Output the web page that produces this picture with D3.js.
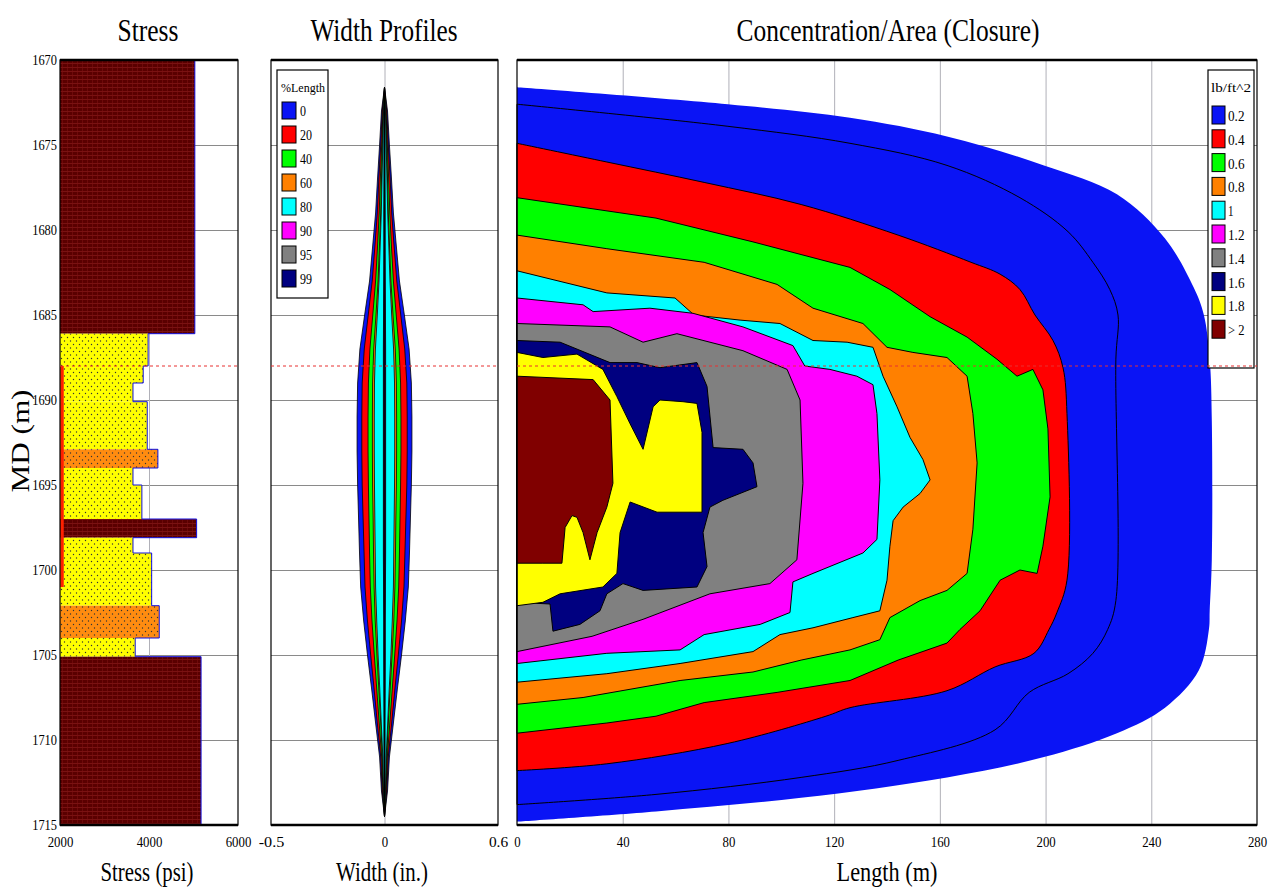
<!DOCTYPE html>
<html>
<head>
<meta charset="utf-8">
<script src="https://cdn.jsdelivr.net/npm/d3@7"></script>
<style>
body { margin: 0; background: #fff; }
text { font-family: "Liberation Serif", "Times New Roman", serif; fill: #000; }
</style>
</head>
<body>
<svg id="chart" width="1275" height="896"></svg>
<script>

// ---- ticks
var depthTicks = [1670, 1675, 1680, 1685, 1690, 1695, 1700, 1705, 1710, 1715];
var stressTicks = [2000, 4000, 6000];
var widthTicks = [-0.6, 0, 0.6];
var widthTickLabels = ['-0.5', '0', '0.6'];
var lengthTicks = [0, 40, 80, 120, 160, 200, 240, 280];

// ---- stress layers (MD m, psi)
var layerTop = [1670, 1686.1, 1688.0, 1689.0, 1690.1, 1692.9, 1694.0, 1695.0, 1697.0, 1698.1, 1699.0, 1702.1, 1704.0, 1705.1];
var layerBot = [1686.1, 1688.0, 1689.0, 1690.1, 1692.9, 1694.0, 1695.0, 1697.0, 1698.1, 1699.0, 1702.1, 1704.0, 1705.1, 1715];
var layerStress = [5030, 3980, 3870, 3640, 3960, 4200, 3640, 3840, 5070, 3640, 4060, 4230, 3690, 5170];
var layerRock = ['shale', 'sand', 'sand', 'sand', 'sand', 'lime', 'sand', 'sand', 'shale', 'sand', 'sand', 'lime', 'sand', 'shale'];
var perfTop = 1688.0, perfBot = 1701.0;
var refDepth = 1688.0;

// ---- width profiles (half width, in.)
var wpLabels = ['0', '20', '40', '60', '80', '90', '95', '99'];
var wpColors = ['#0a14f5', '#ff0000', '#00ff00', '#ff8000', '#00ffff', '#ff00ff', '#808080', '#000080'];
var wpDepth = [1671.6, 1673, 1675, 1677, 1679, 1681, 1683, 1685, 1687, 1689, 1691, 1693, 1695, 1697, 1699, 1701, 1703, 1705, 1707, 1709, 1711, 1713, 1714.5];
var wp0  = [0, 0.016, 0.026, 0.037, 0.047, 0.063, 0.079, 0.105, 0.130, 0.142, 0.145, 0.145, 0.142, 0.137, 0.132, 0.126, 0.110, 0.090, 0.068, 0.047, 0.026, 0.016, 0];
var wp20 = [0, 0.012, 0.020, 0.030, 0.038, 0.051, 0.065, 0.086, 0.107, 0.118, 0.120, 0.120, 0.118, 0.113, 0.108, 0.103, 0.090, 0.073, 0.055, 0.038, 0.020, 0.012, 0];
var wp40 = [0, 0.008, 0.015, 0.022, 0.028, 0.037, 0.047, 0.062, 0.077, 0.085, 0.087, 0.087, 0.085, 0.082, 0.079, 0.075, 0.066, 0.054, 0.041, 0.028, 0.015, 0.008, 0];
var wp60 = [0, 0.006, 0.011, 0.016, 0.020, 0.027, 0.034, 0.045, 0.057, 0.063, 0.064, 0.064, 0.063, 0.060, 0.058, 0.055, 0.049, 0.040, 0.030, 0.020, 0.011, 0.006, 0];
var wp80 = [0, 0.005, 0.009, 0.013, 0.017, 0.023, 0.029, 0.038, 0.048, 0.053, 0.054, 0.054, 0.053, 0.051, 0.049, 0.047, 0.041, 0.034, 0.025, 0.017, 0.009, 0.005, 0];
var wp90 = [0, 0.001, 0.002, 0.002, 0.003, 0.003, 0.004, 0.005, 0.006, 0.006, 0.006, 0.006, 0.006, 0.006, 0.006, 0.005, 0.004, 0.004, 0.003, 0.002, 0.002, 0.001, 0];
var wp95 = [0, 0.001, 0.001, 0.001, 0.002, 0.002, 0.002, 0.003, 0.003, 0.003, 0.003, 0.003, 0.003, 0.003, 0.003, 0.003, 0.002, 0.002, 0.002, 0.001, 0.001, 0.001, 0];
var wp99 = [0, 0, 0.001, 0.001, 0.001, 0.001, 0.001, 0.001, 0.002, 0.002, 0.002, 0.002, 0.002, 0.002, 0.002, 0.001, 0.001, 0.001, 0.001, 0.001, 0.001, 0, 0];
var wpSeries = [wp0, wp20, wp40, wp60, wp80, wp90, wp95, wp99];

// ---- concentration contours [length m, MD m]
var concLabels = ['0.2', '0.4', '0.6', '0.8', '1', '1.2', '1.4', '1.6', '1.8', '> 2'];
var concColors = ['#0a14f5', '#ff0000', '#00ff00', '#ff8000', '#00ffff', '#ff00ff', '#808080', '#000080', '#ffff00', '#800000'];
var concEdge = [[0,1671.6],[79.8,1672.6],[126,1673.4],[162.7,1674.5],[199.4,1676.2],[227,1677.9],[245.2,1680.5],[256.1,1683.4],[259.9,1685.0],[262.1,1687.6],[262.9,1691.2],[262.9,1699.4],[262.1,1702.4],[261.8,1703.5],[258,1705.9],[245.2,1708.1],[227,1709.6],[199.4,1711.0],[162.7,1712.2],[107.5,1713.4],[52.6,1714.2],[0,1714.8]];
var conc02 = [[0,1672.6],[79.8,1673.9],[126,1674.9],[162.7,1676.2],[190.3,1678.1],[208.5,1680.1],[217.9,1681.9],[224.3,1683.5],[227.4,1685.0],[226.6,1687.6],[226.6,1701.8],[223.5,1703.5],[217.9,1704.9],[208.5,1706.1],[193.8,1707.2],[180.9,1709.4],[144.2,1711.2],[107.5,1712.2],[52.6,1713.2],[0,1713.8]];
var conc04 = [[0,1674.9],[34,1676.0],[70.8,1677.2],[107.5,1678.5],[144.2,1680.3],[171.8,1681.9],[182.8,1682.6],[190.3,1683.5],[196,1685.0],[202.8,1686.5],[206.6,1688.1],[208.1,1690.8],[208.1,1700.6],[204.3,1702.5],[201.3,1703.5],[195.6,1704.9],[180.9,1705.7],[162.7,1707.1],[126,1708.1],[116.9,1708.6],[79.8,1710.2],[34,1711.4],[0,1711.8]];
var conc06 = [[0,1678.1],[52.6,1679.3],[89.3,1680.7],[126,1682.2],[141.1,1683.5],[156.3,1685.1],[170.3,1686.3],[181.6,1687.6],[189.2,1688.6],[195.2,1688.2],[199,1689.4],[200.9,1691.7],[201.7,1695.7],[199,1698.6],[196.8,1700.2],[190.3,1700.0],[182.8,1700.6],[175.2,1702.4],[167.6,1703.5],[162.7,1704.3],[144.2,1705.3],[126,1706.5],[98.4,1707.2],[70.8,1707.8],[52.6,1708.6],[34,1709.0],[0,1709.6]];
var conc08 = [[0,1680.3],[34,1681.1],[70.8,1681.9],[98.4,1683.2],[112,1684.6],[130.9,1685.5],[140,1686.9],[149.8,1687.2],[162.7,1687.5],[170.3,1688.6],[172.5,1690.8],[174.1,1693.7],[172.5,1697.6],[170.3,1700.2],[162.7,1701.2],[152.5,1701.8],[141.1,1702.8],[137.3,1704.1],[126,1704.7],[107.5,1705.3],[89.3,1706.0],[61.7,1706.5],[25,1707.5],[0,1707.9]];
var conc10 = [[0,1682.4],[34,1683.7],[59.8,1684.0],[67,1685.0],[84.4,1685.3],[99.5,1685.5],[112,1686.5],[124.9,1686.6],[134.7,1686.9],[138.5,1688.6],[143.8,1690.4],[148.7,1692.2],[153.6,1693.5],[156.3,1694.7],[152.5,1695.5],[146.1,1696.3],[142.3,1697.1],[141.1,1698.6],[140,1700.6],[137.3,1702.4],[127.1,1702.8],[112,1703.4],[99.5,1703.8],[89.3,1704.8],[61.7,1705.5],[34,1706.1],[0,1706.6]];
var conc12 = [[0,1684.0],[25,1684.4],[28.8,1684.8],[50.3,1684.6],[66.6,1684.9],[85.5,1685.7],[104.4,1686.8],[108.9,1688.0],[118.4,1688.2],[128.6,1688.6],[134.7,1689.1],[136.2,1690.8],[137.3,1694.7],[136.2,1698.2],[130.9,1699.0],[112,1700.2],[104.4,1700.7],[103.3,1702.5],[92,1703.2],[70.8,1703.8],[61.7,1704.7],[34,1704.9],[0,1705.5]];
var conc14 = [[0,1685.5],[35.2,1685.7],[47.7,1686.6],[60.5,1686.1],[85.5,1687.1],[102.2,1688.2],[107.1,1690.0],[108.2,1694.9],[105.9,1699.4],[95.7,1700.8],[73,1701.4],[47.7,1702.9],[28.4,1703.9],[0,1704.8]];
var conc16 = [[0,1686.5],[16.3,1686.6],[35.2,1687.8],[45.4,1687.8],[54.1,1688.1],[68.1,1687.8],[71.9,1689.2],[74.2,1692.8],[85.5,1692.9],[89.3,1693.7],[90.8,1695.1],[77.9,1695.9],[73,1696.3],[70.4,1697.8],[71.9,1699.8],[68.1,1701.0],[47.7,1701.2],[40.1,1700.8],[34,1701.4],[31.4,1702.4],[23.8,1703.2],[13.6,1703.6],[12.5,1702.0],[0,1701.9]];
var conc18 = [[0,1687.2],[9.8,1687.5],[22.7,1687.3],[32.5,1688.2],[37.8,1689.8],[42.8,1691.4],[47.7,1692.9],[51.5,1690.4],[54.1,1690.0],[62.8,1690.1],[68.1,1690.2],[70,1691.9],[70,1696.6],[53,1696.6],[42.8,1696.0],[39,1697.8],[37.8,1700.2],[32.5,1701.0],[16.3,1701.4],[9.8,1701.9],[0,1702.1]];
var conc20 = [[0,1688.6],[28.8,1688.8],[35.2,1690.0],[36.3,1694.9],[34,1696.3],[30.3,1697.8],[27.6,1699.4],[25,1697.8],[22.7,1696.9],[20.8,1696.8],[18.2,1697.5],[17,1699.6],[9.8,1699.6],[0,1699.6]];
var concContours = [conc02, conc04, conc06, conc08, conc10, conc12, conc14, conc16, conc18, conc20];

// ---- scales
var y = d3.scaleLinear().domain([1670, 1715]).range([60, 825]);
var xS = d3.scaleLinear().domain([2000, 6000]).range([60, 238]);
var xW = d3.scaleLinear().domain([-0.6, 0.6]).range([271, 498]);
var xC = d3.scaleLinear().domain([0, 280]).range([517, 1257]);

var serif = '"Liberation Serif", "Times New Roman", serif';

var svg = d3.select('#chart');
var defs = svg.append('defs');

// rock fills
var pShale = defs.append('pattern').attr('id', 'shale').attr('width', 5).attr('height', 4).attr('patternUnits', 'userSpaceOnUse');
pShale.append('rect').attr('width', 5).attr('height', 4).attr('fill', '#5a0000');
pShale.append('rect').attr('y', 3).attr('width', 5).attr('height', 1).attr('fill', '#7a1212');
pShale.append('rect').attr('x', 2).attr('width', 1).attr('height', 3).attr('fill', '#6e0a0a');

['sand', 'lime'].forEach(function(id) {
  var p = defs.append('pattern').attr('id', id).attr('width', 6).attr('height', 7).attr('patternUnits', 'userSpaceOnUse');
  p.append('rect').attr('width', 6).attr('height', 7).attr('fill', id == 'sand' ? '#ffff00' : '#ff8c10');
  p.append('circle').attr('cx', 1.5).attr('cy', 1.5).attr('r', 0.7).attr('fill', '#333');
  p.append('circle').attr('cx', 4.5).attr('cy', 5).attr('r', 0.7).attr('fill', '#333');
});

function tickText(sel, size, perChar) {
  sel.attr('font-family', serif);
  sel.selectAll('text')
    .style('font-family', serif)
    .style('font-size', size + 'px')
    .attr('textLength', function() { return this.textContent.length * perChar; })
    .attr('lengthAdjust', 'spacingAndGlyphs');
}

function panelGrid(xs, vticks) {
  var x0 = xs.range()[0], x1 = xs.range()[1];
  var g = svg.append('g');
  g.append('g')
    .attr('transform', 'translate(' + x0 + ',0)')
    .call(d3.axisLeft(y).tickValues(depthTicks.slice(1, -1)).tickSize(-(x1 - x0)).tickFormat(''))
    .call(function(a) { a.select('.domain').remove(); a.selectAll('line').attr('stroke', '#8a8a8a'); });
  g.append('g')
    .attr('transform', 'translate(0,' + y(1715) + ')')
    .call(d3.axisBottom(xs).tickValues(vticks).tickSize(-(y(1715) - y(1670))).tickFormat(''))
    .call(function(a) { a.select('.domain').remove(); a.selectAll('line').attr('stroke', '#b0b0b8'); });
  return g;
}

function panelFrame(xs) {
  var x0 = xs.range()[0], x1 = xs.range()[1];
  svg.append('rect').attr('x', x0).attr('y', y(1670)).attr('width', x1 - x0).attr('height', y(1715) - y(1670))
    .attr('fill', 'none').attr('stroke', '#000').attr('stroke-width', 1.2);
  [1670, 1715].forEach(function(d) {
    svg.append('line').attr('x1', x0).attr('x2', x1).attr('y1', y(d)).attr('y2', y(d))
      .attr('stroke', '#000').attr('stroke-width', 2.5);
  });
}

function xAxis(xs, vals, labels) {
  svg.append('g')
    .attr('transform', 'translate(0,' + (y(1715) + 8) + ')')
    .call(d3.axisBottom(xs).tickValues(vals).tickSize(0).tickFormat(function(d, i) { return labels ? labels[i] : String(d); }))
    .call(function(a) { a.select('.domain').remove(); })
    .call(function(a) { tickText(a, 15, 6.4); });
}

// ================= Stress panel
panelGrid(xS, [4000]);

svg.append('g').selectAll('rect').data(layerTop).join('rect')
  .attr('x', xS(2000))
  .attr('y', function(d) { return y(d); })
  .attr('width', function(d, i) { return xS(layerStress[i]) - xS(2000); })
  .attr('height', function(d, i) { return y(layerBot[i]) - y(d); })
  .attr('fill', function(d, i) { return 'url(#' + layerRock[i] + ')'; });

var stepPts = [];
layerTop.forEach(function(d, i) { stepPts.push([layerStress[i], d], [layerStress[i], layerBot[i]]); });
svg.append('path')
  .attr('d', d3.line().x(function(p) { return xS(p[0]); }).y(function(p) { return y(p[1]); })(stepPts))
  .attr('fill', 'none').attr('stroke', '#1010e0').attr('stroke-width', 1);

svg.append('line').attr('x1', xS(2000) + 2).attr('x2', xS(2000) + 2).attr('y1', y(perfTop)).attr('y2', y(perfBot))
  .attr('stroke', '#ff2000').attr('stroke-width', 3.5);

panelFrame(xS);

svg.append('g')
  .attr('transform', 'translate(' + (xS(2000) - 3) + ',0)')
  .call(d3.axisLeft(y).tickValues(depthTicks).tickSize(0).tickPadding(0).tickFormat(d3.format('d')))
  .call(function(a) { a.select('.domain').remove(); })
  .call(function(a) { tickText(a, 15, 6.2); });

xAxis(xS, stressTicks);

// ================= Width profiles panel
panelGrid(xW, [0]);

var wpArea = d3.area()
  .y(function(p) { return y(p.d); })
  .x0(function(p) { return xW(-p.w); })
  .x1(function(p) { return xW(p.w); });

svg.append('g').selectAll('path').data(wpSeries).join('path')
  .attr('d', function(s) { return wpArea(s.map(function(w, i) { return { d: wpDepth[i], w: w }; })); })
  .attr('fill', function(s, i) { return wpColors[i]; })
  .attr('stroke', '#000').attr('stroke-width', 0.8);

// legend
var wl = svg.append('g').attr('transform', 'translate(277,70)');
wl.append('rect').attr('width', 51).attr('height', 228).attr('fill', '#fff').attr('stroke', '#000').attr('stroke-width', 1.2);
wl.append('text').attr('x', 4).attr('y', 22).style('font-size', '13px')
  .attr('textLength', 44).attr('lengthAdjust', 'spacingAndGlyphs').text('%Length');
wpLabels.forEach(function(l, i) {
  wl.append('rect').attr('x', 5).attr('y', 32 + i * 24).attr('width', 14).attr('height', 17)
    .attr('fill', wpColors[i]).attr('stroke', '#000').attr('stroke-width', 1);
  wl.append('text').attr('x', 23).attr('y', 46 + i * 24).style('font-size', '15px')
    .attr('textLength', l.length * 6).attr('lengthAdjust', 'spacingAndGlyphs').text(l);
});

panelFrame(xW);
xAxis(xW, widthTicks, widthTickLabels);

// ================= Concentration panel
panelGrid(xC, lengthTicks.slice(1, -1));

var cLine = d3.line().x(function(p) { return xC(p[0]); }).y(function(p) { return y(p[1]); });
var cSmooth = d3.line().curve(d3.curveCatmullRom.alpha(0.5)).x(function(p) { return xC(p[0]); }).y(function(p) { return y(p[1]); });

svg.append('path').attr('d', cSmooth(concEdge) + 'Z').attr('fill', concColors[0]);
svg.append('g').selectAll('path').data(concContours).join('path')
  .attr('d', function(c, i) { return (i < 2 ? cSmooth(c) : cLine(c)) + 'Z'; })
  .attr('fill', function(c, i) { return concColors[i]; })
  .attr('stroke', '#000').attr('stroke-width', 1);

// legend
var cl = svg.append('g').attr('transform', 'translate(1208,70)');
cl.append('rect').attr('width', 46).attr('height', 298).attr('fill', '#fff').attr('stroke', '#000').attr('stroke-width', 1.2);
cl.append('text').attr('x', 3).attr('y', 22).style('font-size', '13px')
  .attr('textLength', 40).attr('lengthAdjust', 'spacingAndGlyphs').text('lb/ft^2');
concLabels.forEach(function(l, i) {
  cl.append('rect').attr('x', 4).attr('y', 36 + i * 23.8).attr('width', 13).attr('height', 18)
    .attr('fill', concColors[i]).attr('stroke', '#000').attr('stroke-width', 1);
  cl.append('text').attr('x', 20).attr('y', 51 + i * 23.8).style('font-size', '15px')
    .attr('textLength', l.length * 5.5).attr('lengthAdjust', 'spacingAndGlyphs').text(l);
});

panelFrame(xC);
xAxis(xC, lengthTicks);

// reference depth (dashed)
[xS, xW, xC].forEach(function(xs) {
  svg.append('line').attr('x1', xs.range()[0]).attr('x2', xs.range()[1]).attr('y1', y(refDepth)).attr('y2', y(refDepth))
    .attr('stroke', '#e83030').attr('stroke-width', 1).attr('stroke-dasharray', '3,3');
});

// ================= titles
function label(txt, x, yy, size, len, rot) {
  var t = svg.append('text').attr('text-anchor', 'middle').style('font-size', size + 'px')
    .attr('textLength', len).attr('lengthAdjust', 'spacingAndGlyphs').text(txt);
  if (rot) t.attr('transform', 'translate(' + x + ',' + yy + ') rotate(-90)');
  else t.attr('x', x).attr('y', yy);
}
label('Stress', 148, 41, 31, 61);
label('Width Profiles', 384, 41, 31, 147);
label('Concentration/Area (Closure)', 888, 41, 31, 303);
label('Stress (psi)', 147, 881, 28, 93);
label('Width (in.)', 382, 881, 28, 92);
label('Length (m)', 887, 881, 28, 101);
label('MD (m)', 29, 441, 26, 103, true);

</script>
</body>
</html>
